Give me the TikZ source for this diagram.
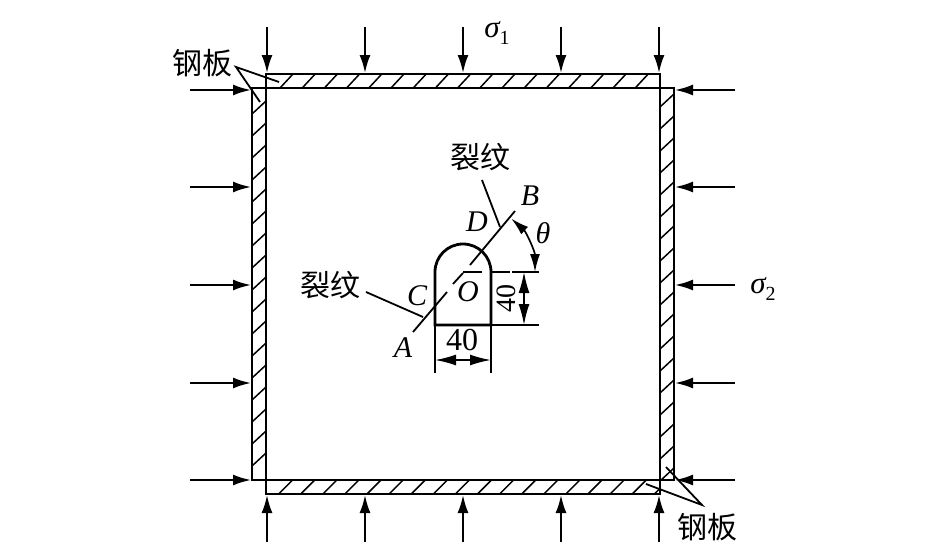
\documentclass[tikz,border=0pt]{standalone}
\usepackage{fontspec}
\setmainfont{Liberation Serif}
\newfontfamily\cjk{Noto Sans CJK SC}
\usetikzlibrary{arrows.meta}
\tikzset{
  plate/.style={line width=2.8pt},
  hatch/.style={line width=1.5pt},
  thin line/.style={line width=1.8pt},
  load/.style={line width=2pt,-{Latex[length=18pt,width=11pt]}},
  dim/.style={line width=1.7pt,{Latex[length=21pt,width=11pt]}-{Latex[length=21pt,width=11pt]}},
  cn/.style={font=\fontsize{30}{30}\selectfont\cjk,inner sep=0pt},
  letter/.style={font=\fontsize{30}{30}\selectfont\itshape,inner sep=0pt},
  digit/.style={font=\fontsize{32}{32}\selectfont,inner sep=0pt}
}
\begin{document}
\begin{tikzpicture}[x=1pt,y=-1pt]
\useasboundingbox (0,0) rectangle (945,544);
% steel plates
\foreach \i in {0,...,16} {
  \draw[hatch] (280+22.2*\i,88) -- ++(13,-14);
}
\begin{scope}
\clip (266,480) rectangle (660,494);
\foreach \i in {0,...,17} {
  \draw[hatch] (278.6+22.1*\i,494) -- ++(14,-14);
}
\end{scope}
\begin{scope}
\clip (252,88) rectangle (266,480);
\foreach \i in {0,...,16} {
  \draw[hatch] (252,114+22*\i) -- ++(14,-13);
}
\end{scope}
\begin{scope}
\clip (660,88) rectangle (674,480);
\foreach \i in {0,...,17} {
  \draw[hatch] (660,107+22*\i) -- ++(14,-13);
}
\end{scope}
\draw[plate] (266,88) -- (266,74) -- (660,74) -- (660,88);
\draw[plate] (266,480) -- (266,494) -- (660,494) -- (660,480);
\draw[plate] (252,88) rectangle (674,480);
\draw[plate] (266,88) -- (266,480);
\draw[plate] (660,88) -- (660,480);
% loads
\foreach \n/\x in {a/267,b/365,c/463,d/561,e/659} {
  \coordinate (top\n) at (\x,27);
  \coordinate (topend\n) at (\x,73);
  \coordinate (bot\n) at (\x,542);
  \coordinate (botend\n) at (\x,495);
  \draw[load] (top\n) -- (topend\n);
  \draw[load] (bot\n) -- (botend\n);
}
\foreach \n/\y in {a/90,b/187,c/285,d/383,e/480} {
  \coordinate (lft\n) at (190,\y);
  \coordinate (lftend\n) at (251,\y);
  \coordinate (rgt\n) at (735,\y);
  \coordinate (rgtend\n) at (675,\y);
  \draw[load] (lft\n) -- (lftend\n);
  \draw[load] (rgt\n) -- (rgtend\n);
}
\node[inner sep=0pt] (s1) at (497,33) {\fontsize{31}{31}\selectfont\itshape σ\raisebox{-7pt}{\upshape\fontsize{20}{20}\selectfont 1}};
\node[inner sep=0pt] (s2) at (763,289) {\fontsize{31}{31}\selectfont\itshape σ\raisebox{-7pt}{\upshape\fontsize{20}{20}\selectfont 2}};
% steel plate labels
\node[cn] (gb1) at (202,63) {钢板};
\node[cn] (gb2) at (707,527) {钢板};
\coordinate (p1) at (236,67);
\coordinate (p2) at (279,82);
\coordinate (p3) at (260,102);
\coordinate (q1) at (702,505);
\coordinate (q2) at (646,484);
\coordinate (q3) at (666,467);
\draw[thin line] (p2) -- (p1) -- (p3);
\draw[thin line] (q2) -- (q1) -- (q3);
% opening
\coordinate (hl) at (435,272);
\coordinate (hr) at (491,272);
\coordinate (bl) at (435,325);
\coordinate (br) at (491,325);
\draw[plate] (bl) -- (hl) arc[start angle=180,end angle=360,radius=28] -- (br) -- cycle;
\coordinate (el) at (435,373);
\coordinate (er) at (491,373);
\coordinate (bx) at (539,325);
\coordinate (hx) at (539,272);
\coordinate (hy) at (510,272);
\coordinate (hz) at (512,272);
\coordinate (ox) at (463,272);
\coordinate (oy) at (482,272);
\draw[thin line] (bl) -- (el);
\draw[thin line] (br) -- (er);
\draw[thin line] (br) -- (bx);
\draw[thin line] (hr) -- (hy);
\draw[thin line] (hz) -- (hx);
\draw[thin line] (ox) -- (oy);
\coordinate (dl) at (435,360);
\coordinate (dr) at (491,360);
\coordinate (dt) at (524,272);
\coordinate (db) at (524,325);
\draw[dim] (dl) -- (dr);
\draw[dim] (dt) -- (db);
\node[digit] (w40) at (462,340) {40};
\node[digit,font=\fontsize{28}{28}\selectfont,rotate=90] (h40) at (506,298) {40};
% crack
\coordinate (ca) at (413,332);
\coordinate (cb) at (447,292);
\coordinate (cc) at (453,284);
\coordinate (cd) at (463,273);
\coordinate (ce) at (470,265);
\coordinate (cf) at (515,211);
\draw[thin line] (ca) -- (cb);
\draw[thin line] (cc) -- (cd);
\draw[thin line] (ce) -- (cf);
\node[letter] (la) at (403,348) {A};
\node[letter] (lb) at (530,196) {B};
\node[letter] (lc) at (417,296) {C};
\node[letter] (ld) at (477,222) {D};
\node[letter] (lo) at (468,292) {O};
\node[letter] (lt) at (543,233) {θ};
% angle
\draw[line width=1.7pt,{Latex[length=18pt,width=10pt]}-{Latex[length=18pt,width=10pt]}] (ox) ++(48:72 and -72) arc[start angle=48,end angle=0,x radius=72,y radius=-72];
% crack labels
\node[cn] (lw1) at (480,157) {裂纹};
\node[cn] (lw2) at (330,285) {裂纹};
\coordinate (u1) at (482,180);
\coordinate (u2) at (500,227);
\coordinate (v1) at (366,292);
\coordinate (v2) at (423,317);
\draw[thin line] (u1) -- (u2);
\draw[thin line] (v1) -- (v2);
\end{tikzpicture}
\end{document}
